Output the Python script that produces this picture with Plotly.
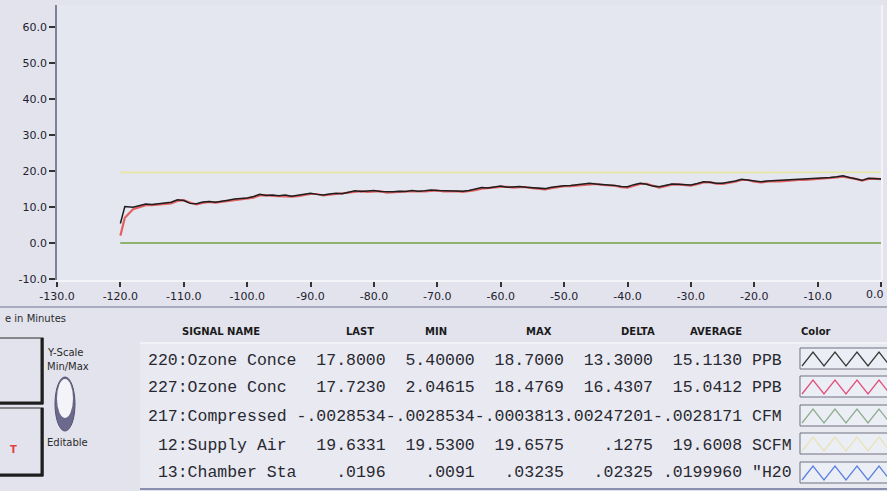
import plotly.graph_objects as go

# ---------------- data ----------------
time_min = [-120, -119.3] + list(range(-118, 1))

ozone_220 = [5.4, 10.1,
    9.9, 10.4, 10.8, 10.7, 10.9, 11.0, 11.3, 12.0, 11.8, 11.0,
    10.9, 11.4, 11.5, 11.3, 11.7, 11.9, 12.2, 12.3, 12.5, 12.9,
    13.5, 13.2, 13.3, 13.1, 13.3, 13.0, 13.2, 13.6, 13.8, 13.5,
    13.3, 13.6, 13.8, 13.7, 14.0, 14.5, 14.3, 14.4, 14.6, 14.3,
    14.2, 14.2, 14.4, 14.3, 14.6, 14.4, 14.5, 14.7, 14.6, 14.5,
    14.6, 14.5, 14.4, 14.6, 15.0, 15.4, 15.3, 15.6, 15.8, 15.5,
    15.6, 15.7, 15.5, 15.4, 15.2, 15.1, 15.5, 15.8, 15.9, 16.0,
    16.2, 16.4, 16.6, 16.4, 16.3, 16.2, 16.0, 15.7, 15.6, 16.2,
    16.6, 16.3, 15.8, 15.6, 16.0, 16.4, 16.3, 16.1, 16.1, 16.5,
    17.0, 16.9, 16.6, 16.6, 16.8, 17.2, 17.7, 17.5, 17.1, 17.0,
    17.2, 17.3, 17.3, 17.5, 17.6, 17.7, 17.6, 17.8, 17.9, 18.0,
    18.2, 18.4, 18.7, 18.2, 17.9, 17.4, 18.0, 17.9, 17.8]

ozone_227 = [2.05, 7.0,
    9.4, 10.0, 10.5, 10.5, 10.6, 10.8, 11.0, 11.7, 11.9, 11.2,
    10.7, 11.1, 11.4, 11.2, 11.4, 11.6, 12.0, 12.2, 12.3, 12.6,
    13.2, 13.3, 13.1, 13.0, 13.1, 12.9, 13.0, 13.3, 13.6, 13.6,
    13.2, 13.4, 13.6, 13.6, 13.8, 14.2, 14.4, 14.2, 14.4, 14.4,
    14.0, 14.0, 14.2, 14.3, 14.4, 14.3, 14.3, 14.5, 14.6, 14.3,
    14.4, 14.4, 14.2, 14.4, 14.7, 15.1, 15.3, 15.4, 15.6, 15.6,
    15.4, 15.5, 15.5, 15.2, 15.0, 14.9, 15.2, 15.6, 15.8, 15.8,
    16.0, 16.2, 16.4, 16.4, 16.1, 16.0, 15.9, 15.5, 15.4, 15.9,
    16.4, 16.4, 15.9, 15.4, 15.8, 16.2, 16.3, 16.0, 15.9, 16.3,
    16.8, 16.9, 16.5, 16.4, 16.6, 17.0, 17.5, 17.5, 17.0, 16.8,
    17.0, 17.2, 17.1, 17.3, 17.5, 17.5, 17.5, 17.6, 17.8, 17.8,
    18.0, 18.2, 18.45, 18.2, 17.8, 17.3, 17.8, 17.9, 17.72]

supply_time = [-120, -100, -80, -60, -40, -20, 0]
supply_air = [19.60, 19.62, 19.59, 19.61, 19.60, 19.62, 19.63]

flat_time = [-120, 0]
compressed = [-0.0028, -0.0029]
chamber = [0.020, 0.0196]

x_ticks = [-130, -120, -110, -100, -90, -80, -70, -60, -50, -40, -30, -20, -10, 0]
x_tick_labels = ["-130.0", "-120.0", "-110.0", "-100.0", "-90.0", "-80.0", "-70.0",
                 "-60.0", "-50.0", "-40.0", "-30.0", "-20.0", "-10.0", "0.0"]
y_ticks = [-10, 0, 10, 20, 30, 40, 50, 60]
y_tick_labels = ["-10.0", "0.0", "10.0", "20.0", "30.0", "40.0", "50.0", "60.0"]

# table
headers = ["SIGNAL NAME", "LAST", "MIN", "MAX", "DELTA", "AVERAGE", "Color"]
signal_names = ["220:Ozone Conce", "227:Ozone Conc", "217:Compressed", " 12:Supply Air", " 13:Chamber Sta"]
last_vals = ["17.8000", "17.7230", "-.0028534", "19.6331", ".0196"]
min_vals = ["5.40000", "2.04615", "-.0028534", "19.5300", ".0091"]
max_vals = ["18.7000", "18.4769", "-.0003813", "19.6575", ".03235"]
delta_vals = ["13.3000", "16.4307", ".00247201", ".1275", ".02325"]
avg_vals = ["15.1130", "15.0412", "-.0028171", "19.6008", ".0199960"]
units = ["PPB", "PPB", "CFM", "SCFM", '"H20']

trace_colors = ["#1e1e1e", "#e24a4a", "#98b848", "#e8e6a0", "#5b82e0"]
swatch_colors = ["#3a3a3a", "#e0507a", "#8fae8f", "#e6e4b8", "#5b82e0"]

assert len(time_min) == len(ozone_220) == len(ozone_227)

# ---------------- layout helpers (pixel -> paper) ----------------
W, H = 887, 491
L, R, T, B = 57, 5, 5, 211
PW, PH = W - L - R, H - T - B


def px(x):
    return (x - L) / PW


def py(y):
    return (H - B - y) / PH


fig = go.Figure()
fig.add_trace(go.Scatter(x=flat_time, y=chamber, mode="lines",
                         line=dict(color=trace_colors[4], width=1.5), hoverinfo="skip"))
fig.add_trace(go.Scatter(x=flat_time, y=compressed, mode="lines",
                         line=dict(color=trace_colors[2], width=1.5), hoverinfo="skip"))
fig.add_trace(go.Scatter(x=supply_time, y=supply_air, mode="lines",
                         line=dict(color=trace_colors[3], width=1.6), hoverinfo="skip"))
fig.add_trace(go.Scatter(x=time_min, y=ozone_227, mode="lines",
                         line=dict(color=trace_colors[1], width=2.2), opacity=0.85, hoverinfo="skip"))
fig.add_trace(go.Scatter(x=time_min, y=ozone_220, mode="lines",
                         line=dict(color=trace_colors[0], width=1.5), hoverinfo="skip"))

shapes = []
annotations = []

# separator under axis
shapes.append(dict(type="line", xref="paper", yref="paper", x0=px(0), x1=px(W), y0=py(307), y1=py(307),
                   line=dict(color="#9598ad", width=1.5)))
# right plot border (light)
shapes.append(dict(type="line", xref="paper", yref="paper", x0=1, x1=1, y0=0, y1=1,
                   line=dict(color="#f4f4f8", width=2)))

# last x tick label kept inside the window (right-aligned at the edge)
annotations.append(dict(xref="paper", yref="paper", x=px(886), y=py(294), text=x_tick_labels[-1],
                        showarrow=False, xanchor="right", yanchor="middle",
                        font=dict(family="DejaVu Sans", size=11, color="#22222e")))
axis_tick_text = x_tick_labels[:-1] + [""]

# table background
shapes.append(dict(type="rect", xref="paper", yref="paper", x0=px(140), x1=px(W + 5), y0=py(343), y1=py(489),
                   fillcolor="#e8e9f1", line=dict(width=0), layer="below"))
shapes.append(dict(type="line", xref="paper", yref="paper", x0=px(140), x1=px(W), y0=py(343), y1=py(343),
                   line=dict(color="#f6f6fa", width=1.5)))
shapes.append(dict(type="line", xref="paper", yref="paper", x0=px(140), x1=px(W), y0=py(489), y1=py(489),
                   line=dict(color="#8a8fb0", width=2)))

# headers
header_x = [221, 360, 436, 539, 638, 716, 816]
for h, hx in zip(headers, header_x):
    annotations.append(dict(xref="paper", yref="paper", x=px(hx), y=py(332), text="<b>%s</b>" % h,
                            showarrow=False, xanchor="center", yanchor="middle",
                            font=dict(family="DejaVu Sans", size=10, color="#1a1a1a")))

# rows
row_y = [360, 388, 417, 445, 473]
for i in range(len(signal_names)):
    s = (signal_names[i].ljust(15) + last_vals[i].rjust(9) + min_vals[i].rjust(9) +
         max_vals[i].rjust(9) + delta_vals[i].rjust(9) + avg_vals[i].rjust(9) + " " + units[i])
    s = s.replace(" ", "\u00a0")
    annotations.append(dict(xref="paper", yref="paper", x=px(146), y=py(row_y[i]), text=s,
                            showarrow=False, xanchor="left", yanchor="middle",
                            font=dict(family="Liberation Mono", size=16.5, color="#282830")))

# swatches
box_tops = [348, 376, 405, 433, 462]
for i, top in enumerate(box_tops):
    bot = top + 21
    shapes.append(dict(type="rect", xref="paper", yref="paper", x0=px(800), x1=px(W + 5), y0=py(top), y1=py(bot),
                       fillcolor="#eceef5", line=dict(color="#6f7080", width=1)))
    pts = []
    xx = 802
    k = 0
    while xx < W + 12:
        yy = bot - 3 if k % 2 == 0 else top + 4
        pts.append((px(xx), py(yy)))
        xx += 11
        k += 1
    path = "M " + " L ".join("%f,%f" % p for p in pts)
    shapes.append(dict(type="path", xref="paper", yref="paper", path=path,
                       line=dict(color=swatch_colors[i], width=1.3)))

# left controls
for (t0, b0) in [(338, 404), (408, 476)]:
    shapes.append(dict(type="rect", xref="paper", yref="paper", x0=px(-2), x1=px(43), y0=py(t0), y1=py(b0),
                       fillcolor="rgba(0,0,0,0)", line=dict(color="#2a2a2a", width=1.2)))
    shapes.append(dict(type="line", xref="paper", yref="paper", x0=px(42), x1=px(42), y0=py(t0), y1=py(b0),
                       line=dict(color="#1e1e1e", width=3)))
    shapes.append(dict(type="line", xref="paper", yref="paper", x0=px(-2), x1=px(43), y0=py(b0 - 1), y1=py(b0 - 1),
                       line=dict(color="#1e1e1e", width=3)))

# toggle oval
shapes.append(dict(type="circle", xref="paper", yref="paper", x0=px(55), x1=px(75), y0=py(377), y1=py(431),
                   fillcolor="#6c6a8c", line=dict(color="#55536f", width=1)))
shapes.append(dict(type="circle", xref="paper", yref="paper", x0=px(57), x1=px(73), y0=py(379), y1=py(418),
                   fillcolor="#f3f3f8", line=dict(width=0)))

left_texts = [("e in Minutes", 3, 318, "#2a2a2a", False), ("Y-Scale", 45, 352, "#2a2a2a", False),
              ("Min/Max", 45, 366, "#2a2a2a", False), ("Editable", 45, 442, "#2a2a2a", False),
              ("T", 8, 449, "#e04040", True)]
for txt, tx, ty, col, bold in left_texts:
    annotations.append(dict(xref="paper", yref="paper", x=px(tx), y=py(ty),
                            text=("<b>%s</b>" % txt) if bold else txt,
                            showarrow=False, xanchor="left", yanchor="middle",
                            font=dict(family="DejaVu Sans", size=10, color=col)))

fig.update_layout(
    width=W, height=H,
    margin=dict(l=L, r=R, t=T, b=B, autoexpand=False),
    paper_bgcolor="#e2e3ed",
    plot_bgcolor="#e5e7f0",
    showlegend=False,
    shapes=shapes,
    annotations=annotations,
    xaxis=dict(range=[-130, 0.15], tickmode="array", tickvals=x_ticks, ticktext=axis_tick_text,
               ticks="outside", ticklen=5, tickwidth=1.5, tickcolor="#333333",
               showline=True, linecolor="#f4f4f8", linewidth=2, showgrid=False, zeroline=False,
               tickfont=dict(family="DejaVu Sans", size=11, color="#22222e")),
    yaxis=dict(range=[-10.28, 66.1], tickmode="array", tickvals=y_ticks, ticktext=y_tick_labels,
               ticks="outside", ticklen=6, tickwidth=1.5, tickcolor="#333333",
               showline=True, linecolor="#7d8099", linewidth=1.5, showgrid=False, zeroline=False,
               tickfont=dict(family="DejaVu Sans", size=11, color="#22222e")),
)

fig.write_html("out.html", config={"displayModeBar": False},
               post_script="document.body.style.margin='0px';document.body.style.overflow='hidden';")
